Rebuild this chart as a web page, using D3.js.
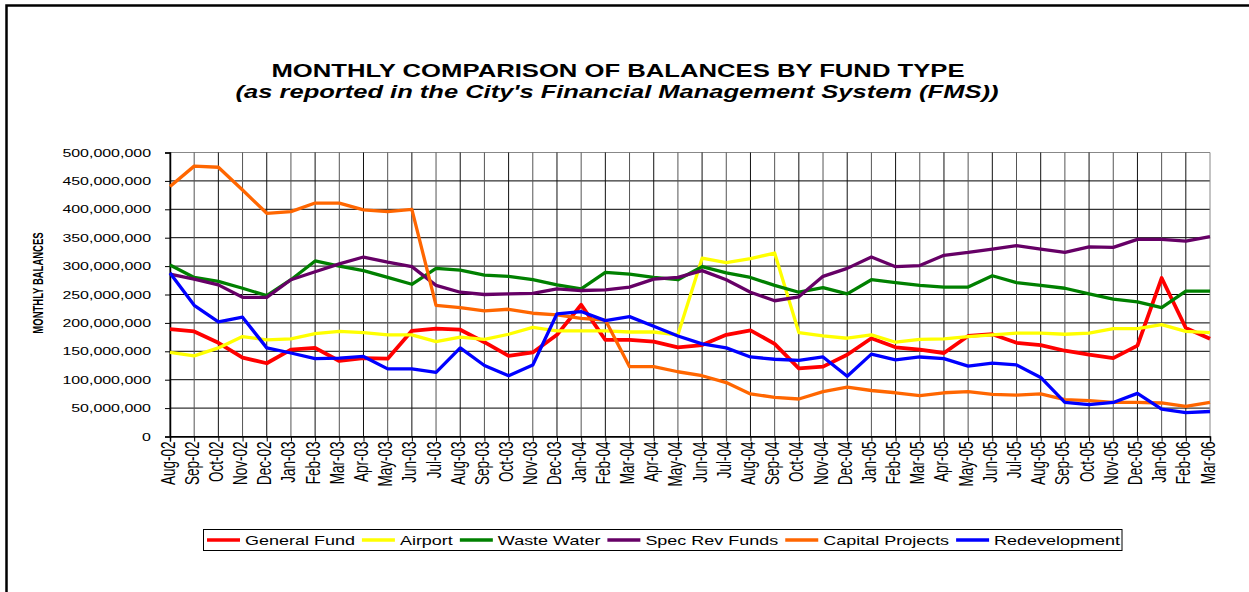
<!DOCTYPE html>
<html>
<head>
<meta charset="utf-8">
<script src="https://d3js.org/d3.v7.min.js"></script>
<style>
  body { margin: 0; background: #fff; }
  text { font-family: "Liberation Sans", Arial, sans-serif; fill: #000; }
</style>
</head>
<body>
<div id="chart"></div>
<script>
// month labels on the x axis
var months = ["Aug-02","Sep-02","Oct-02","Nov-02","Dec-02",
  "Jan-03","Feb-03","Mar-03","Apr-03","May-03","Jun-03","Jul-03","Aug-03","Sep-03","Oct-03","Nov-03","Dec-03",
  "Jan-04","Feb-04","Mar-04","Apr-04","May-04","Jun-04","Jul-04","Aug-04","Sep-04","Oct-04","Nov-04","Dec-04",
  "Jan-05","Feb-05","Mar-05","Apr-05","May-05","Jun-05","Jul-05","Aug-05","Sep-05","Oct-05","Nov-05","Dec-05",
  "Jan-06","Feb-06","Mar-06"];

// balances in millions
var generalFund = [189,185,165,139,129,153,156,133,138,137,186,190,188,166,142,148,179,232,170,170,167,157,161,179,187,163,120,123,144,173,157,153,147,177,180,165,161,151,144,138,160,279,191,172];
var airport = [148,142,156,176,170,172,181,185,183,179,179,167,175,171,180,192,186,186,186,184,184,179,314,306,313,323,183,177,173,179,166,171,172,176,179,182,182,180,182,190,190,197,185,183];
var wasteWater = [302,280,273,261,248,276,309,300,292,280,268,296,293,284,282,276,267,260,289,286,280,276,299,288,280,266,254,262,251,276,271,266,263,263,283,271,266,261,251,242,237,227,256,256];
var specRevFunds = [286,277,267,245,245,276,290,304,316,307,299,266,254,250,251,252,260,257,258,263,277,280,292,276,254,239,246,282,296,316,299,301,319,324,330,336,330,324,334,333,347,347,344,352];
var capitalProjects = [440,476,474,434,393,396,411,411,399,396,400,231,227,221,224,217,214,208,205,123,123,114,107,95,75,69,66,79,87,81,77,72,77,79,74,73,75,65,63,60,60,59,53,60];
var redevelopment = [288,231,202,210,156,147,137,138,141,119,119,113,156,125,107,126,216,220,204,211,194,177,163,156,140,136,134,140,106,145,135,140,137,124,129,126,104,60,56,60,76,48,42,44];

var seriesNames = ["General Fund","Airport","Waste Water","Spec Rev Funds","Capital Projects","Redevelopment"];
var seriesColors = ["#ff0000","#ffff00","#008000","#660066","#ff6600","#0000ff"];
var seriesValues = [generalFund, airport, wasteWater, specRevFunds, capitalProjects, redevelopment];

var yTicks = [0,50e6,100e6,150e6,200e6,250e6,300e6,350e6,400e6,450e6,500e6];

var svgWidth = 1249, svgHeight = 592;
var margin = {top: 152.5, left: 170, right: 39, bottom: 155.5};
var width = svgWidth - margin.left - margin.right;
var height = svgHeight - margin.top - margin.bottom;
var sx = 1.45; // the picture is stretched sideways

var svg = d3.select("#chart").append("svg")
    .attr("width", svgWidth)
    .attr("height", svgHeight);

// outer frame (left and top edges only show)
svg.append("path")
    .attr("d", "M6.5,600 V5.5 H1260")
    .attr("fill", "none")
    .attr("stroke", "#000")
    .attr("stroke-width", 2.5);

function stretched(parent, x, y, str, size, weight, style, anchor) {
    var g = parent.append("g").attr("transform", `translate(${x},${y}) scale(${sx},1)`);
    return g.append("text")
        .attr("text-anchor", anchor || "start")
        .style("font-size", size + "px")
        .style("font-weight", weight || "normal")
        .style("font-style", style || "normal")
        .text(str);
}

// titles
stretched(svg, 618, 77, "MONTHLY COMPARISON OF BALANCES BY FUND TYPE", 17.7, "bold", "normal", "middle");
stretched(svg, 617, 98, "(as reported in the City's Financial Management System (FMS))", 17.6, "bold", "italic", "middle");

var chart = svg.append("g").attr("transform", `translate(${margin.left},${margin.top})`);

var x = d3.scalePoint().domain(d3.range(months.length)).range([0, width]);
var y = d3.scaleLinear().domain([0, 500e6]).range([height, 0]);

// grid
chart.append("g").selectAll("line").data(yTicks).enter().append("line")
    .attr("x1", 0).attr("x2", width)
    .attr("y1", d => y(d)).attr("y2", d => y(d))
    .attr("stroke", (d, i) => i == yTicks.length - 1 ? "#888" : "#000")
    .attr("stroke-width", 1);
chart.append("g").selectAll("line").data(d3.range(months.length)).enter().append("line")
    .attr("x1", d => x(d)).attr("x2", d => x(d))
    .attr("y1", 0).attr("y2", height)
    .attr("stroke", (d, i) => i == months.length - 1 ? "#888" : (i % 2 ? "#555" : "#111"))
    .attr("stroke-width", 1);

// axes
var yAxis = chart.append("g").call(d3.axisLeft(y).tickValues(yTicks).tickSize(5).tickFormat(""));
var xAxis = chart.append("g").attr("transform", `translate(0,${height})`)
    .call(d3.axisBottom(x).tickSize(5).tickFormat(""));
[yAxis, xAxis].forEach(a => {
    a.select(".domain").attr("stroke", "#000").attr("stroke-width", 1.5);
    a.selectAll(".tick line").attr("stroke", "#000");
});

// y tick labels
yTicks.forEach(t => {
    stretched(chart, -19, y(t) + 4, d3.format(",")(t), 11, "normal", "normal", "end");
});

// x tick labels, rotated
months.forEach((m, i) => {
    chart.append("g")
        .attr("transform", `translate(${x(i) + 4.5},${height + 5}) scale(${sx},1) rotate(-90)`)
        .append("text")
        .attr("text-anchor", "end")
        .style("font-size", "13.5px")
        .text(m);
});

// y axis title
svg.append("g")
    .attr("transform", `translate(43,283) scale(${sx},1) rotate(-90)`)
    .append("text")
    .attr("text-anchor", "middle")
    .style("font-size", "9.5px")
    .style("font-weight", "bold")
    .text("MONTHLY BALANCES");

// lines
var line = d3.line().x((d, i) => x(i)).y(d => y(d * 1e6));
seriesValues.forEach((vals, k) => {
    chart.append("path")
        .datum(vals)
        .attr("fill", "none")
        .attr("stroke", seriesColors[k])
        .attr("stroke-width", k == 0 ? 3.8 : 3.3)
        .attr("stroke-linejoin", "round")
        .attr("d", line);
});

// legend
var legend = svg.append("g");
var legendBox = legend.append("rect")
    .attr("x", 203.5).attr("y", 529.5).attr("height", 21)
    .attr("fill", "#fff").attr("stroke", "#000").attr("stroke-width", 1);
var lx = 207;
seriesNames.forEach((name, k) => {
    legend.append("line")
        .attr("x1", lx).attr("x2", lx + 33)
        .attr("y1", 540).attr("y2", 540)
        .attr("stroke", seriesColors[k]).attr("stroke-width", 3.5);
    var t = stretched(legend, lx + 38, 545, name, 12.4);
    lx += 38 + t.node().getComputedTextLength() * sx + 7;
});
legendBox.attr("width", lx - 5 - 203.5);
</script>
</body>
</html>
